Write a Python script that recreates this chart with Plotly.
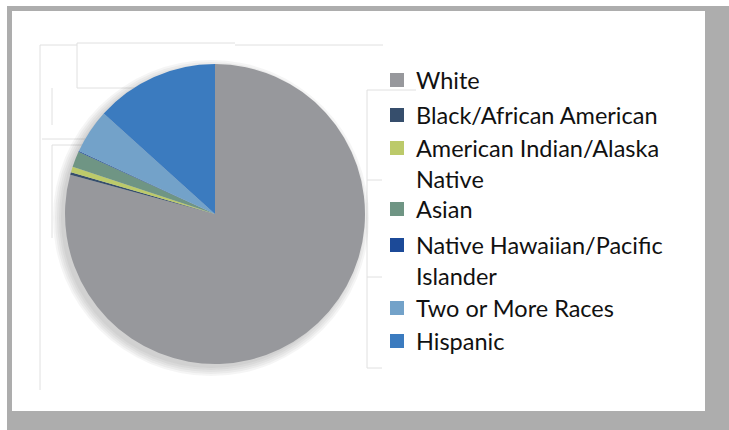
import textwrap

import plotly.graph_objects as go

# Data (percent of students)
categories = [
    "White",
    "Black/African American",
    "American Indian/Alaska Native",
    "Asian",
    "Native Hawaiian/Pacific Islander",
    "Two or More Races",
    "Hispanic",
]
shares = [79.2, 0.3, 0.6, 1.7, 0.1, 4.8, 13.3]
colors = ["#97989c", "#364e6c", "#bcca6a", "#6f9584", "#1c4a98", "#73a2c9", "#3b7bbf"]

W, H = 729, 430
FONT_SIZE = 23.5
LINE_GAP = FONT_SIZE * 1.3  # plotly's multi-line spacing


def px(x):
    return x / W


def py(y):
    return 1 - y / H


fig = go.Figure()

# pie, centre (215, 214), radius ~150
fig.add_trace(
    go.Pie(
        labels=categories,
        values=shares,
        sort=False,
        direction="clockwise",
        rotation=0,
        marker=dict(colors=colors, line=dict(width=0)),
        textinfo="none",
        hoverinfo="label+percent",
        showlegend=False,
        domain=dict(x=[px(65), px(365)], y=[py(364), py(64)]),
    )
)

shapes = []
# grey frame with white inner panel
shapes.append(dict(type="rect", xref="paper", yref="paper", x0=px(7), x1=1, y0=0, y1=py(6),
                   fillcolor="#adadad", line=dict(width=0), layer="below"))
shapes.append(dict(type="rect", xref="paper", yref="paper", x0=px(12), x1=px(705), y0=py(411), y1=py(11),
                   fillcolor="white", line=dict(width=0), layer="below"))

# faint leftover box lines
ghost = "#e0e0e0"
for x0, y0, x1, y1 in [
    (40, 45, 40, 390), (40, 45, 77, 45), (77, 43, 235, 43), (235, 45, 383, 45),
    (77, 43, 77, 88), (77, 88, 235, 88), (52, 88, 52, 125), (42, 139, 85, 139),
    (52, 145, 52, 238), (52, 145, 85, 145), (367, 90, 367, 368),
    (367, 90, 416, 90), (367, 180, 382, 180), (367, 277, 382, 277), (367, 368, 382, 368),
]:
    shapes.append(dict(type="line", xref="paper", yref="paper", x0=px(x0), x1=px(x1), y0=py(y0), y1=py(y1),
                       line=dict(color=ghost, width=1), layer="below"))

# soft shadow behind the pie
cx, cy = 211, 218
for r in [158, 156, 154, 152, 150]:
    shapes.append(dict(type="circle", xref="paper", yref="paper",
                       x0=px(cx - r), x1=px(cx + r), y0=py(cy + r), y1=py(cy - r),
                       fillcolor="rgba(90,90,90,0.06)", line=dict(width=0), layer="below"))

# legend drawn by hand to match spacing (y = centre of first text line)
legend_y = [80, 115, 148, 209, 245, 308, 341]
annotations = []
for name, col, y in zip(categories, colors, legend_y):
    shapes.append(dict(type="rect", xref="paper", yref="paper", x0=px(390), x1=px(404),
                       y0=py(y + 7), y1=py(y - 7), fillcolor=col, line=dict(width=0)))
    lines = textwrap.wrap(name, 23)
    mid = y + (len(lines) - 1) * LINE_GAP / 2
    annotations.append(dict(x=px(414), y=py(mid), xref="paper", yref="paper",
                            text="<br>".join(lines), showarrow=False, align="left",
                            xanchor="left", yanchor="middle",
                            font=dict(family="Lato", size=FONT_SIZE, color="#111111")))

fig.update_layout(
    width=W,
    height=H,
    margin=dict(l=0, r=0, t=0, b=0),
    paper_bgcolor="white",
    plot_bgcolor="white",
    shapes=shapes,
    annotations=annotations,
)

# page has a default 8px body margin; drop it so the figure sits at 0,0
fig.write_html("out.html", config={"displayModeBar": False},
               post_script="document.body.style.margin='0';")
